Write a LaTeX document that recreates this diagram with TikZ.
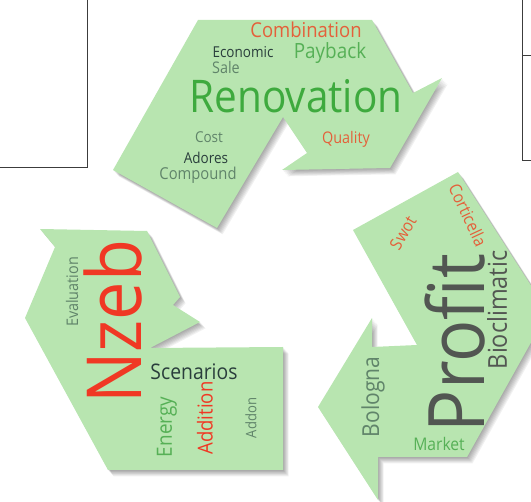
\documentclass[tikz,border=0pt]{standalone}
\usepackage{fontspec}
\setmainfont{Open Sans}[FakeStretch=0.9]
\definecolor{arrowfill}{RGB}{184,229,176}
\definecolor{cgreen}{RGB}{62,170,62}
\definecolor{cgreenb}{RGB}{86,176,86}
\definecolor{corange}{RGB}{228,96,58}
\definecolor{cdark}{RGB}{42,62,60}
\definecolor{cgray}{RGB}{96,132,106}
\definecolor{cred}{RGB}{240,56,36}
\definecolor{cgraydark}{RGB}{82,86,82}
\definecolor{cframe}{RGB}{60,60,60}
\newcommand{\toppoly}{(113,170) -- (198,20) -- (372,20) -- (413,93) -- (442,78) -- (390,168) -- (282,170) -- (307,153) -- (283,117) -- (217,228) -- cycle}
\newcommand{\leftpoly}{(40,229) -- (147,231) -- (180,297) -- (173,305) -- (200,322) -- (150,348) -- (283,347) -- (283,470) -- (108,470) -- (25,318) -- (55,247) -- cycle}
\newcommand{\rightpoly}{(353,230) -- (458,172) -- (548,312) -- (467,457) -- (378,457) -- (378,500) -- (318,407) -- (372,318) -- (372,347) -- (417,345) -- cycle}
\tikzset{
  word/.style={inner sep=0pt, anchor=center},
  fs/.style={font=\fontsize{#1}{#1}\selectfont},
  shade layer/.style={fill=black, opacity=0.055},
  arrowbody/.style={fill=arrowfill}
}
\begin{document}
\begin{tikzpicture}[x=1pt,y=-1pt]
\useasboundingbox (0,0) rectangle (531,502);
\clip (0,0) rectangle (531,502);
% frame fragments
\draw[cframe, line width=0.9pt] (87,-2) -- (87,167) -- (-2,167);
\draw[cframe, line width=0.9pt] (522,-2) -- (522,160) -- (533,160);
\draw[cframe, line width=0.9pt] (522,55) -- (533,55);
% shadows
\foreach \s in {1,...,7}{
  \fill[shade layer, shift={(\s*0.8,\s*0.9)}] \toppoly;
  \fill[shade layer, shift={(\s*0.8,\s*0.9)}] \leftpoly;
  \fill[shade layer, shift={(\s*0.8,\s*0.9)}] \rightpoly;
}
% arrows
\fill[arrowbody] \toppoly;
\fill[arrowbody] \leftpoly;
\fill[arrowbody] \rightpoly;
% top arrow words
\node[word, fs=20.5, text=corange] (combination) at (306,30) {Combination};
\node[word, fs=15, text=cdark] (economic) at (243,52) {Economic};
\node[word, fs=21, text=cgreenb] (payback) at (330,53) {Payback};
\node[word, fs=16, text=cgray] (sale) at (226,68) {Sale};
\node[word, fs=45, text=cgreen] (renovation) at (296,96) {Renovation};
\node[word, fs=15, text=cgray] (cost) at (209,137) {Cost};
\node[word, fs=15, text=cdark] (adores) at (206,158) {Adores};
\node[word, fs=16.4, text=cgray] (compound) at (198,175) {Compound};
\node[word, fs=16, text=corange] (quality) at (346,139) {Quality};
% left arrow words
\node[word, fs=16, text=cgray, rotate=90] (evaluation) at (72,292) {Evaluation};
\node[word, fs=76, text=cred, rotate=90] (nzeb) at (113,322) {Nzeb};
\node[word, fs=21.5, text=cdark] (scenarios) at (194,372) {Scenarios};
\node[word, fs=21, text=cgreenb, rotate=90] (energy) at (167,427) {Energy};
\node[word, fs=20.6, text=cred, rotate=90] (addition) at (205,418) {Addition};
\node[word, fs=14.5, text=cgray, rotate=90] (addon) at (251,418) {Addon};
% right arrow words
\node[word, fs=17, text=corange, rotate=-65] (corticella) at (468,215) {Corticella};
\node[word, fs=17, text=corange, rotate=59] (swot) at (403,233) {Swot};
\node[word, fs=78, text=cgraydark, rotate=90] (profit) at (455,343) {Profit};
\node[word, fs=26, text=cgraydark, rotate=90] (bioclimatic) at (497,310) {Bioclimatic};
\node[word, fs=23.4, text=cgray, rotate=90] (bologna) at (373,397) {Bologna};
\node[word, fs=17.4, text=cgreenb] (market) at (439,444) {Market};
\end{tikzpicture}
\end{document}
